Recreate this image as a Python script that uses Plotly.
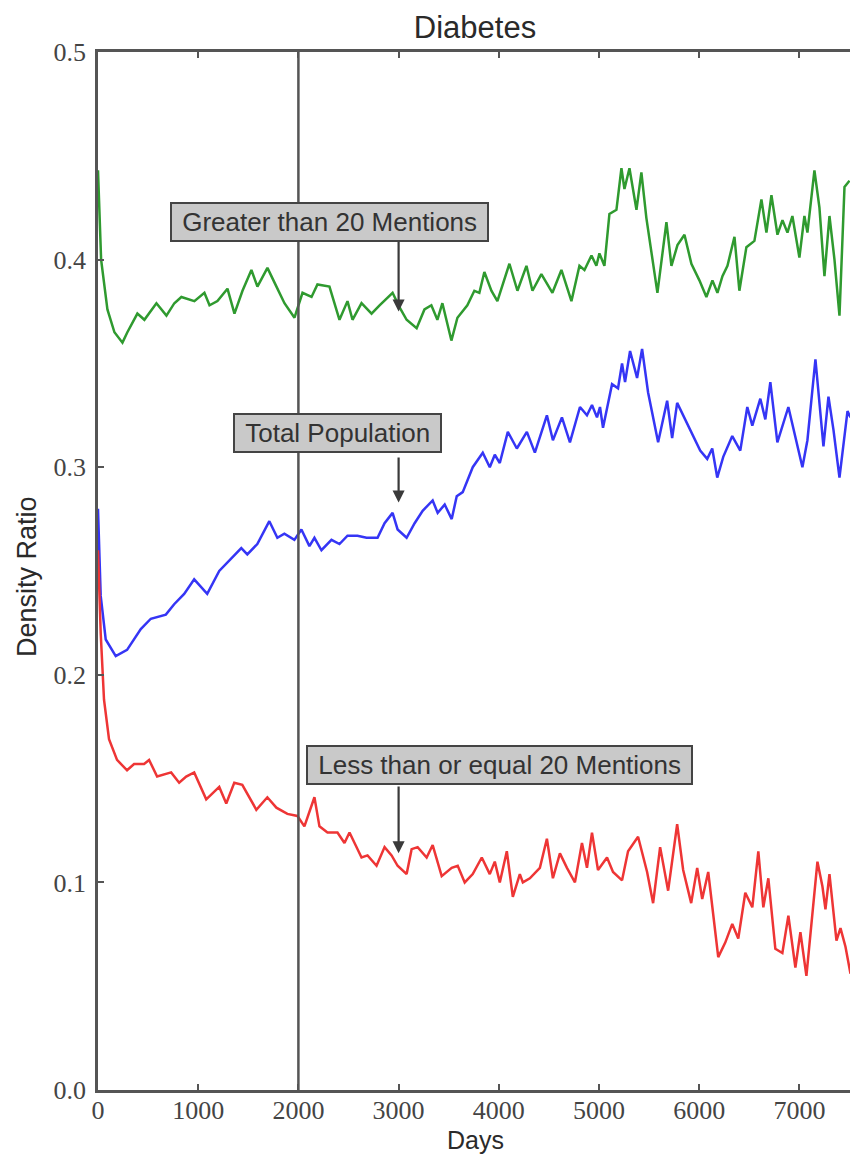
import plotly.graph_objects as go

# ---------------- data ----------------
green_x = [0, 31, 94, 164, 244, 293, 393, 463, 583, 683, 762, 832, 962, 1062, 1113, 1192, 1292, 1362,
           1442, 1531, 1591, 1691, 1781, 1861, 1961, 2041, 2131, 2190, 2310, 2410, 2490, 2540, 2630,
           2730, 2810, 2940, 3010, 3080, 3180, 3258, 3327, 3387, 3437, 3527, 3587, 3686, 3756, 3806,
           3856, 3926, 3986, 4106, 4186, 4276, 4336, 4425, 4535, 4625, 4725, 4805, 4855, 4925, 4974,
           5004, 5054, 5104, 5174, 5224, 5254, 5304, 5374, 5423, 5473, 5583, 5673, 5723, 5783, 5853,
           5922, 6002, 6072, 6132, 6182, 6232, 6282, 6352, 6401, 6471, 6551, 6621, 6671, 6721, 6781,
           6831, 6881, 6930, 7000, 7050, 7080, 7150, 7200, 7250, 7300, 7350, 7400, 7450, 7500]
green_y = [0.443, 0.400, 0.376, 0.365, 0.360, 0.365, 0.374, 0.371, 0.379, 0.373, 0.379, 0.382, 0.380,
           0.384, 0.378, 0.380, 0.386, 0.374, 0.385, 0.395, 0.387, 0.396, 0.387, 0.379, 0.372, 0.384,
           0.382, 0.388, 0.387, 0.371, 0.380, 0.371, 0.379, 0.374, 0.378, 0.384, 0.377, 0.371, 0.367,
           0.376, 0.378, 0.371, 0.379, 0.361, 0.372, 0.378, 0.385, 0.384, 0.394, 0.385, 0.380, 0.398,
           0.385, 0.397, 0.385, 0.393, 0.384, 0.395, 0.380, 0.397, 0.395, 0.402, 0.397, 0.403, 0.397,
           0.422, 0.424, 0.444, 0.434, 0.444, 0.424, 0.442, 0.420, 0.384, 0.418, 0.397, 0.407, 0.412,
           0.398, 0.390, 0.382, 0.390, 0.384, 0.392, 0.397, 0.411, 0.385, 0.406, 0.409, 0.429, 0.413,
           0.431, 0.412, 0.419, 0.413, 0.421, 0.401, 0.421, 0.413, 0.443, 0.425, 0.392, 0.421, 0.400,
           0.373, 0.435, 0.438]

blue_x = [0, 27, 77, 177, 290, 360, 427, 527, 677, 760, 860, 960, 1090, 1210, 1310, 1430, 1490, 1590,
          1710, 1790, 1860, 1960, 2030, 2110, 2160, 2230, 2330, 2410, 2490, 2590, 2680, 2790, 2860,
          2940, 2990, 3080, 3160, 3240, 3340, 3390, 3460, 3530, 3580, 3640, 3740, 3840, 3910, 3960,
          4010, 4090, 4180, 4280, 4360, 4480, 4540, 4630, 4710, 4810, 4880, 4930, 4980, 5010, 5040,
          5130, 5190, 5230, 5260, 5310, 5380, 5430, 5490, 5590, 5680, 5730, 5780, 5840, 5930, 6010,
          6080, 6130, 6180, 6240, 6330, 6410, 6480, 6530, 6610, 6660, 6710, 6780, 6890, 6980, 7030,
          7080, 7160, 7240, 7290, 7340, 7400, 7480, 7510]
blue_y = [0.280, 0.238, 0.217, 0.209, 0.212, 0.217, 0.222, 0.227, 0.229, 0.234, 0.239, 0.246, 0.239,
          0.250, 0.255, 0.261, 0.258, 0.263, 0.274, 0.266, 0.268, 0.265, 0.270, 0.262, 0.266, 0.260,
          0.265, 0.263, 0.267, 0.267, 0.266, 0.266, 0.273, 0.278, 0.270, 0.266, 0.273, 0.279, 0.284,
          0.278, 0.282, 0.275, 0.286, 0.288, 0.300, 0.307, 0.300, 0.306, 0.302, 0.317, 0.309, 0.317,
          0.307, 0.325, 0.313, 0.324, 0.312, 0.329, 0.325, 0.330, 0.324, 0.329, 0.319, 0.340, 0.338,
          0.350, 0.341, 0.356, 0.343, 0.357, 0.336, 0.312, 0.332, 0.314, 0.331, 0.325, 0.316, 0.308,
          0.304, 0.309, 0.295, 0.305, 0.315, 0.308, 0.329, 0.320, 0.333, 0.323, 0.341, 0.312, 0.329,
          0.311, 0.300, 0.313, 0.352, 0.310, 0.334, 0.318, 0.295, 0.327, 0.324]

red_x = [0, 27, 60, 110, 190, 290, 360, 460, 510, 590, 730, 810, 880, 960, 1080, 1210, 1280, 1360,
         1440, 1580, 1690, 1780, 1890, 1990, 2060, 2160, 2210, 2290, 2390, 2460, 2510, 2630, 2690,
         2780, 2860, 2930, 2990, 3080, 3130, 3190, 3280, 3340, 3430, 3530, 3590, 3660, 3740, 3830,
         3910, 3960, 4010, 4080, 4140, 4210, 4240, 4310, 4410, 4480, 4540, 4610, 4680, 4760, 4830,
         4880, 4930, 4990, 5080, 5140, 5230, 5290, 5390, 5480, 5540, 5610, 5690, 5780, 5840, 5920,
         5980, 6030, 6090, 6190, 6260, 6330, 6390, 6460, 6530, 6590, 6640, 6690, 6760, 6830, 6890,
         6960, 7010, 7070, 7180, 7230, 7260, 7300, 7370, 7410, 7460, 7510]
red_y = [0.260, 0.220, 0.188, 0.169, 0.159, 0.154, 0.157, 0.157, 0.159, 0.151, 0.153, 0.148, 0.151,
         0.153, 0.140, 0.146, 0.138, 0.148, 0.147, 0.135, 0.141, 0.136, 0.133, 0.132, 0.127, 0.141,
         0.127, 0.124, 0.124, 0.119, 0.124, 0.112, 0.113, 0.108, 0.117, 0.113, 0.108, 0.104, 0.116,
         0.117, 0.112, 0.118, 0.103, 0.107, 0.108, 0.100, 0.104, 0.112, 0.104, 0.110, 0.100, 0.115,
         0.093, 0.104, 0.100, 0.102, 0.107, 0.121, 0.102, 0.114, 0.107, 0.100, 0.119, 0.107, 0.124,
         0.106, 0.112, 0.105, 0.101, 0.115, 0.122, 0.105, 0.090, 0.117, 0.096, 0.128, 0.106, 0.090,
         0.107, 0.092, 0.105, 0.064, 0.071, 0.080, 0.073, 0.095, 0.088, 0.115, 0.088, 0.102, 0.068,
         0.066, 0.084, 0.059, 0.076, 0.055, 0.110, 0.098, 0.087, 0.104, 0.072, 0.078, 0.069, 0.056]

x_ticks = [0, 1000, 2000, 3000, 4000, 5000, 6000, 7000]
y_ticks = [0.0, 0.1, 0.2, 0.3, 0.4, 0.5]
marker_day = 2000

labels = ["Greater than 20 Mentions", "Total Population", "Less than or equal 20 Mentions"]
label_x = [2309, 2389, 4006]
label_y = [0.418, 0.3165, 0.1566]
arrow_x = [3000, 3000, 3000]
arrow_tail = [0.4094, 0.3054, 0.1469]
arrow_tip = [0.375, 0.283, 0.114]

SANS = "Liberation Sans, Arial, sans-serif"
SERIF = "Liberation Serif, DejaVu Serif, serif"

# ---------------- figure ----------------
fig = go.Figure()
for xs, ys, col in [(green_x, green_y, "#2f9a2f"), (blue_x, blue_y, "#3535f5"), (red_x, red_y, "#ee3535")]:
    fig.add_trace(go.Scatter(x=xs, y=ys, mode="lines", line=dict(color=col, width=2.5), showlegend=False))

fig.add_shape(type="line", x0=marker_day, x1=marker_day, y0=0, y1=1, xref="x", yref="paper",
              line=dict(color="#555555", width=2.5))

for t, lx, ly, axx, at, tip in zip(labels, label_x, label_y, arrow_x, arrow_tail, arrow_tip):
    fig.add_annotation(x=axx, y=tip, ax=axx, ay=at, axref="x", ayref="y", xref="x", yref="y",
                       text="", showarrow=True, arrowhead=2, arrowsize=1.1, arrowwidth=2.2,
                       arrowcolor="#3a3a3a", standoff=0, startstandoff=0)
    fig.add_annotation(x=lx, y=ly, xref="x", yref="y", text="\u00a0" + t + "\u00a0", showarrow=False,
                       font=dict(family=SANS, size=26, color="#333333"),
                       bgcolor="#c9c9c9", bordercolor="#444444", borderwidth=2, borderpad=3)

# axis titles as annotations
fig.add_annotation(text="Density Ratio", xref="paper", yref="paper", x=(27 - 98) / 752, y=(1090 - 577) / 1038,
                   textangle=-90, showarrow=False, xanchor="center", yanchor="middle",
                   font=dict(family=SANS, size=27, color="#2a2a2a"))
fig.add_annotation(text="Days", xref="paper", yref="paper", x=(475 - 98) / 752, y=(1090 - 1140) / 1038,
                   showarrow=False, xanchor="center", yanchor="middle",
                   font=dict(family=SANS, size=25, color="#2a2a2a"))

fig.update_layout(
    width=850, height=1156,
    margin=dict(l=98, r=0, t=52, b=66),
    paper_bgcolor="white", plot_bgcolor="white",
    title=dict(text="Diabetes", x=(475 / 850), xref="container", xanchor="center",
               y=1 - 27 / 1156, yref="container", yanchor="middle",
               font=dict(family=SANS, size=31, color="#2a2a2a")),
)
fig.update_xaxes(range=[0, 7505], tickvals=x_ticks, ticktext=[str(v) for v in x_ticks],
                 showgrid=False, zeroline=False, showline=True, linecolor="#555555", linewidth=2.5,
                 mirror="ticks", ticks="inside", ticklen=6, tickwidth=1.5, tickcolor="#555555",
                 ticklabelstandoff=-5,
                 tickfont=dict(family=SERIF, size=26, color="#444444"))
fig.update_yaxes(range=[0, 0.5], tickvals=y_ticks, ticktext=["%.1f" % v for v in y_ticks],
                 showgrid=False, zeroline=False, showline=True, linecolor="#555555", linewidth=2.5,
                 ticks="inside", ticklen=6, tickwidth=1.5, tickcolor="#555555",
                 ticklabelstandoff=4,
                 tickfont=dict(family=SERIF, size=26, color="#444444"))

fig.write_html("out.html", config={"displayModeBar": False},
               post_script="document.body.style.margin='0';document.body.style.overflow='hidden';")
